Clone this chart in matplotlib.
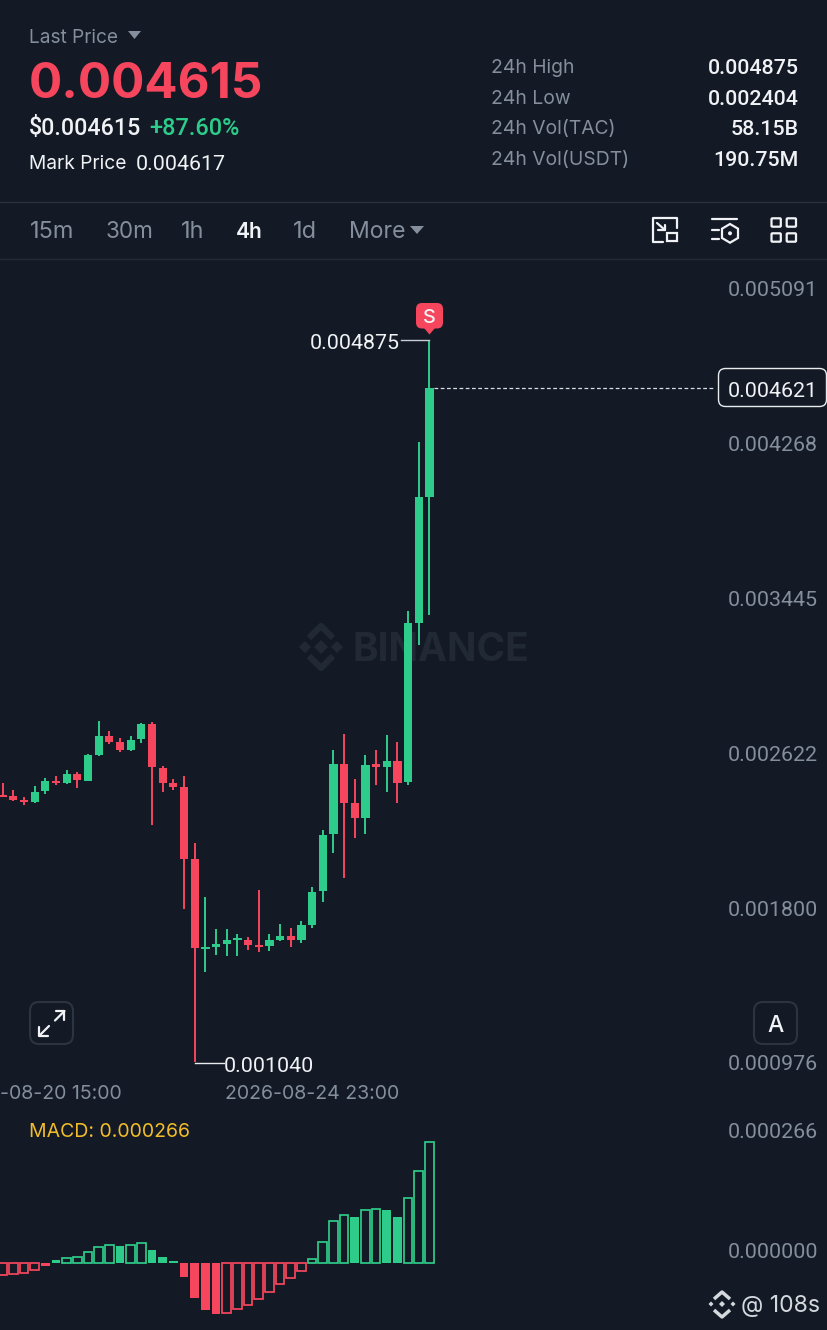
import matplotlib
matplotlib.use('Agg')
import matplotlib.pyplot as plt
from matplotlib.patches import Rectangle, FancyBboxPatch, Polygon, Circle

BG = '#131a26'
GREEN = '#2ecc8a'
RED = '#f6465d'
WHITE = '#f0f2f5'
GREY = '#848e9c'
plt.rcParams['font.family'] = ['Inter', 'DejaVu Sans']


def p(y):
    return round(0.004621 - (y - 388) * 5.31e-6, 6)


# price values for the 4h candles (via its price scale)
opens = [p(v) for v in [795, 796, 799.7, 802, 791.3, 780.7, 783, 774, 781, 754.7, 736, 742.3, 749.7, 739.3, 724, 767.7, 782.7, 787.3, 859,
                        948.7, 947, 944, 940.3, 939.7, 945, 945.7, 940, 936, 940, 924.7, 891.3,
                        834.3, 764, 803, 817.7, 764.3, 767.3, 760.7, 782.3, 623, 497]]
closes = [p(v) for v in [797.3, 800, 802, 791.7, 781, 782.7, 774, 780, 755, 735.7, 742, 749.7, 739.7, 724, 767.3, 782.7, 787, 858.7, 948,
                         946.7, 944, 940.3, 938, 945.3, 947.3, 940, 935.7, 940.3, 924.7, 891.7, 835,
                         764, 802.7, 817.7, 764.7, 767.3, 761, 782.7, 623, 497, 388]]
highs = [p(v) for v in [783, 790, 796.7, 786, 778.3, 776, 770, 772, 753.7, 721, 731, 738, 736, 723, 722.3, 765.7, 779, 776.3, 842.7,
                        897.3, 929.3, 929.3, 934, 937.3, 890, 934.3, 924, 928.3, 920.7, 887.3, 829.7,
                        750, 733.7, 779.3, 755, 750, 735, 742.3, 611, 442.3, 341]]
lows = [p(v) for v in [797.5, 800.7, 804.7, 802.7, 793.7, 785, 783.7, 787.7, 781.3, 755.7, 744, 751.7, 751.3, 742.7, 825, 792, 789.7, 909.3, 1062,
                       972.3, 955, 956, 956, 950, 952.3, 951, 941.3, 947, 943.3, 928, 902,
                       853.3, 877.7, 837.7, 834.3, 785, 791.7, 802.7, 785.3, 645.3, 615.3]]

M = 2.2e-6
macd = [-12.7, -11.3, -10, -7.3, -3, 2.7, 4.3, 6, 10.3, 16, 18, 16.7, 18, 19.7, 12.7, 5.7, 1.7, -14, -35.7, -47.3, -51.3,
        -50.7, -46.7, -42.3, -36.3, -29.7, -21.7, -15.7, -8.3, 4, 20.3, 41.7, 47.3, 46, 53, 54, 52.7, 46, 64.7, 92, 120.7]
hollow = [1, 1, 1, 1, 0, 0, 1, 1, 1, 1, 1, 0, 1, 1, 0, 0, 0, 0, 0, 0, 0, 1, 1, 1, 1, 1, 1, 1, 1, 1, 1, 1, 1, 0, 1, 1, 0, 0, 1, 1, 1]
macd = [v * M for v in macd]

price_ticks = ['0.005091', '0.004268', '0.003445', '0.002622', '0.001800', '0.000976']
price_tick_y = [288, 443, 598, 753, 908, 1062]

W, H = 828, 1330
fig = plt.figure(figsize=(W / 100, H / 100), dpi=100, facecolor=BG)

# watermark layer under the candles
under = fig.add_axes([0, 0, 1, 1], zorder=0)
under.set_xlim(0, W); under.set_ylim(H, 0); under.axis('off')

# overlay in pixels for the interface
ui = fig.add_axes([0, 0, 1, 1], zorder=5)
ui.set_xlim(0, W); ui.set_ylim(H, 0); ui.axis('off'); ui.patch.set_alpha(0)

NUM = 'Roboto'
NUM_K = 21.4 / 20


def T(x, y, s, size, color=WHITE, ha='left', weight='normal', z=6, num=False, a=None):
    a = a or ui
    if num:
        return a.text(x, y + 2.1, s, fontsize=size * NUM_K * 0.72, color=color, ha=ha, va='center',
                      fontweight=weight, zorder=z, family=NUM)
    return a.text(x, y + size * 0.1, s, fontsize=size * 0.72, color=color, ha=ha, va='center', fontweight=weight, zorder=z)


def ax_px(top, bottom):
    a = fig.add_axes([0, 1 - bottom / H, 1, (bottom - top) / H], zorder=2)
    a.patch.set_alpha(0)
    return a


# price panel
ax = ax_px(260, 1105)
ax.set_xlim(-0.25, (W - 2.67) / 10.667)
ax.set_ylim(p(1105), p(260))
ax.axis('off')
for i in range(len(opens)):
    o, c, h, l = opens[i], closes[i], highs[i], lows[i]
    col = GREEN if c >= o else RED
    ax.vlines(i, l, h, color=col, lw=1.4, zorder=2)
    ax.add_patch(Rectangle((i - 0.39, min(o, c)), 0.78, max(abs(c - o), 1.5 * 5.31e-6), fc=col, ec='none', zorder=3))

# last price line
ax.hlines(closes[-1], 40.4, 66.8, color='#d8dde2', lw=0.9, ls=(0, (3, 2)), zorder=1)

# macd panel
mx = ax_px(1135, 1320)
mx.set_xlim(-0.25, (W - 2.67) / 10.667)
mx.set_ylim((1262.7 - 1320) * M, (1262.7 - 1135) * M)
mx.axis('off')
for i, v in enumerate(macd):
    col = GREEN if v >= 0 else RED
    if hollow[i]:
        mx.bar(i, v, width=0.84, fc=BG, ec=col, lw=1.25)
    else:
        mx.bar(i, v, width=0.82, fc=col, ec='none')

# header
T(29, 36, 'Last Price', 19, GREY)
ui.add_patch(Polygon([(128, 31), (141, 31), (134.5, 39)], fc=GREY, ec='none'))
T(29, 80, '0.004615', 49.3, RED, weight='bold')
T(29, 126, '$0.004615', 21.8, WHITE, weight='medium', num=True)
T(149, 126, '+87.60%', 22, GREEN, weight='medium', num=True)
T(29, 162, 'Mark Price', 19.2, WHITE)
T(136, 162, '0.004617', 20, WHITE, num=True)
rows = [('24h High', '0.004875', 66), ('24h Low', '0.002404', 97), ('24h Vol(TAC)', '58.15B', 127), ('24h Vol(USDT)', '190.75M', 158)]
for a_, b_, y in rows:
    T(491, y, a_, 19.3, GREY)
    T(799, y, b_, 20, WHITE, ha='right', weight='medium', num=True)

ui.plot([0, W], [202, 202], color='#2a323e', lw=1)
ui.plot([0, W], [259, 259], color='#232b37', lw=1)

# interval row
for x, s, c, w, sz in [(30, '15m', GREY, 'normal', 23.5), (106, '30m', GREY, 'normal', 22.5), (181, '1h', GREY, 'normal', 23.5),
                       (236, '4h', WHITE, 'semibold', 21), (293, '1d', GREY, 'normal', 23.5), (349, 'More', GREY, 'normal', 23)]:
    T(x, 230, s, sz, c, weight=w)
ui.add_patch(Polygon([(410, 226), (424, 226), (417, 234)], fc=GREY, ec='none'))

# toolbar icons
ic = dict(color=WHITE, lw=1.6, solid_capstyle='round', zorder=6)
ui.plot([663.5, 653, 653, 676.7, 676.7], [241.5, 241.5, 218, 218, 228], **ic)
ui.add_patch(Rectangle((667, 233), 9.7, 8.3, fc='none', ec=WHITE, lw=1.6, zorder=6))
ui.plot([657, 665], [223, 230], **ic)
ui.plot([665, 665, 658], [224.5, 230, 230], **ic)
ui.plot([712, 737], [219, 219], **ic)
ui.plot([712, 719], [230, 230], **ic)
ui.plot([712, 719], [239.3, 239.3], **ic)
ui.add_patch(Polygon([(730, 224), (738, 228.7), (738, 238), (730, 242.7), (722, 238), (722, 228.7)], fc='none', ec=WHITE, lw=1.6, zorder=6))
ui.add_patch(Circle((730, 233.3), 2, fc=WHITE, ec='none', zorder=6))
for x0 in (771.5, 786.7):
    for y0 in (218.3, 233.3):
        ui.add_patch(FancyBboxPatch((x0, y0), 9.3, 8.4, boxstyle='round,pad=0,rounding_size=1', fc='none', ec=WHITE, lw=1.6, zorder=6))

# price axis labels
for s, y in zip(price_ticks, price_tick_y):
    T(818, y, s, 20, GREY, ha='right', num=True)
ui.add_patch(FancyBboxPatch((718.5, 368.5), 108, 38, boxstyle='round,pad=0,rounding_size=7', fc=BG, ec='#e8ecef', lw=1, zorder=5))
T(818, 389, '0.004621', 20, WHITE, ha='right', num=True)

# high and low marks
T(400, 341, '0.004875', 20, WHITE, ha='right', num=True)
ui.plot([401, 429], [340, 340], color='#c9ced4', lw=1, zorder=4)
T(224, 1064, '0.001040', 20, WHITE, num=True)
ui.plot([195, 224], [1063, 1063], color='#e8ecef', lw=1, zorder=4)

# S badge
ui.add_patch(FancyBboxPatch((416, 303), 27, 25.5, boxstyle='round,pad=0,rounding_size=6', fc=RED, ec='none', zorder=6))
ui.add_patch(Polygon([(424, 328), (435, 328), (429.5, 334.5)], fc=RED, ec='none', zorder=6))
T(429.5, 316, 'S', 20, WHITE, ha='center', weight='medium', z=7)

# watermark
wm = '#212935'
for cx, cy, r in [(321, 647, 7), (305, 647, 6), (337, 647, 6)]:
    under.add_patch(Polygon([(cx - r, cy), (cx, cy - r), (cx + r, cy), (cx, cy + r)], fc=wm, ec='none', zorder=1))
under.plot([309, 321, 333], [638, 626, 638], color=wm, lw=4.5, zorder=1, solid_capstyle='butt')
under.plot([309, 321, 333], [656, 668, 656], color=wm, lw=4.5, zorder=1, solid_capstyle='butt')
T(353, 647, 'BINANCE', 38.8, wm, weight='bold', z=1, a=under)

# expand buttons
for x0, y0 in [(30, 1002), (754, 1002)]:
    ui.add_patch(FancyBboxPatch((x0, y0), 43, 42, boxstyle='round,pad=0,rounding_size=9', fc=BG, ec='#2c3440', lw=1.5, zorder=5))
ic2 = dict(color=WHITE, lw=1.6, zorder=6, solid_capstyle='round')
ui.plot([39.5, 49], [1035.5, 1026], **ic2)
ui.plot([55, 64.5], [1020.5, 1011], **ic2)
ui.plot([56, 64.5, 64.5], [1011, 1011, 1019.5], **ic2)
ui.plot([39.5, 39.5, 48], [1027, 1035.5, 1035.5], **ic2)
T(776, 1024, 'A', 23, WHITE, ha='center', weight='medium')

# time labels
T(0, 1092, '-08-20 15:00', 19.5, GREY)
T(225, 1092, '2026-08-24 23:00', 19.5, GREY)

# macd labels
T(29, 1130, 'MACD: 0.000266', 19.5, '#f3bd2a')
T(818, 1130, '0.000266', 20, GREY, ha='right', num=True)
T(818, 1250, '0.000000', 20, GREY, ha='right', num=True)

# footer
fc = '#d5d9de'
for cx, cy, r in [(722, 1304, 3), (711, 1304, 2.5), (733, 1304, 2.5)]:
    ui.add_patch(Polygon([(cx - r, cy), (cx, cy - r), (cx + r, cy), (cx, cy + r)], fc=fc, ec='none', zorder=6))
ui.plot([714, 722, 730], [1299, 1292, 1299], color=fc, lw=2.5, zorder=6, solid_capstyle='butt')
ui.plot([714, 722, 730], [1310, 1317, 1310], color=fc, lw=2.5, zorder=6, solid_capstyle='butt')
T(741, 1304, '@ 108s', 23, fc)

fig.savefig('out.png', dpi=100, facecolor=BG)
